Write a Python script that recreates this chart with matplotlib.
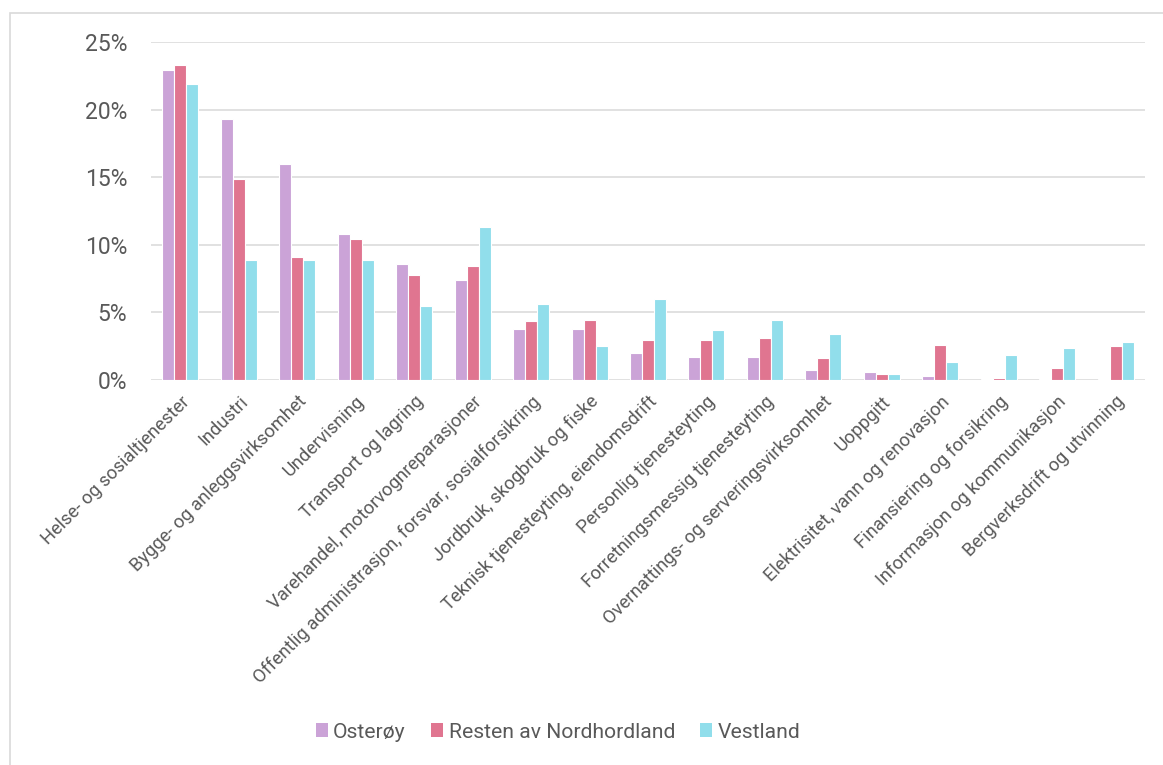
import numpy as np
import matplotlib
matplotlib.use('Agg')
import matplotlib.pyplot as plt
from matplotlib.patches import Rectangle, Patch

plt.rcParams['font.family'] = ['Roboto', 'DejaVu Sans']

# categories, left to right
categories = ['Helse- og sosialtjenester', 'Industri', 'Bygge- og anleggsvirksomhet',
              'Undervisning', 'Transport og lagring',
              'Varehandel, motorvognreparasjoner',
              'Offentlig administrasjon, forsvar, sosialforsikring',
              'Jordbruk, skogbruk og fiske', 'Teknisk tjenesteyting, eiendomsdrift',
              'Personlig tjenesteyting', 'Forretningsmessig tjenesteyting',
              'Overnattings- og serveringsvirksomhet', 'Uoppgitt',
              'Elektrisitet, vann og renovasjon', 'Finansiering og forsikring',
              'Informasjon og kommunikasjon', 'Bergverksdrift og utvinning']

# shares in percent
osteroy = [22.9, 19.3, 16.0, 10.8, 8.6, 7.4, 3.8, 3.75, 2.0, 1.7, 1.67,
           0.74, 0.59, 0.27, 0.1, 0.1, 0.1]
resten = [23.3, 14.9, 9.1, 10.4, 7.8, 8.4, 4.4, 4.45, 2.97, 2.96, 3.1,
          1.6, 0.47, 2.56, 0.15, 0.91, 2.54]
vestland = [21.9, 8.9, 8.9, 8.9, 5.45, 11.35, 5.65, 2.5, 6.0, 3.7, 4.43,
            3.4, 0.47, 1.35, 1.85, 2.34, 2.81]

series_names = ['Osterøy', 'Resten av Nordhordland', 'Vestland']
colors = ['#CBA3D7', '#E07590', '#91DEEB']
text_col = '#595959'

fig = plt.figure(figsize=(11.63, 7.65), dpi=100)
ax = fig.add_axes([151/1163, 1-380/765, (1145-151)/1163, (380-42)/765])

# chart border (only left/top visible in the reference)
fig.patches.append(Rectangle((10/1163, -0.1), 1.2, 1.1 - 13/765,
                             transform=fig.transFigure, fill=False,
                             edgecolor='#D9D9D9', linewidth=1.2))

x = np.arange(len(categories))
w = 0.205
data = [osteroy, resten, vestland]
for i, (vals, col) in enumerate(zip(data, colors)):
    ax.bar(x + (i-1)*w, np.array(vals)/100, width=w, color=col,
           edgecolor='white', linewidth=0.8, zorder=3)

ax.set_xlim(-0.5, len(categories)-0.5)
ax.set_ylim(0, 0.25)
ax.set_yticks(np.arange(0, 0.26, 0.05))
ax.set_yticklabels(['%d%%' % v for v in range(0, 26, 5)])
ax.yaxis.grid(True, color='#D9D9D9', linewidth=1.1, zorder=0)
for s in ax.spines.values():
    s.set_visible(False)
ax.tick_params(axis='y', length=0, pad=17, labelsize=16.5, labelcolor=text_col)

ax.set_xticks(x)
ax.set_xticklabels(categories, rotation=45, ha='right', rotation_mode='anchor',
                   fontsize=13.2, color=text_col)
ax.tick_params(axis='x', length=0, pad=9)

handles = [Patch(facecolor=c, edgecolor='none') for c in colors]
fig.legend(handles, series_names, loc='center', bbox_to_anchor=(558/1163, 1-732/765),
           ncol=3, frameon=False, fontsize=15.2, labelcolor=text_col,
           handlelength=0.58, handleheight=0.58, handletextpad=0.25,
           columnspacing=1.2)

fig.savefig('out.png', dpi=100, facecolor='white')
